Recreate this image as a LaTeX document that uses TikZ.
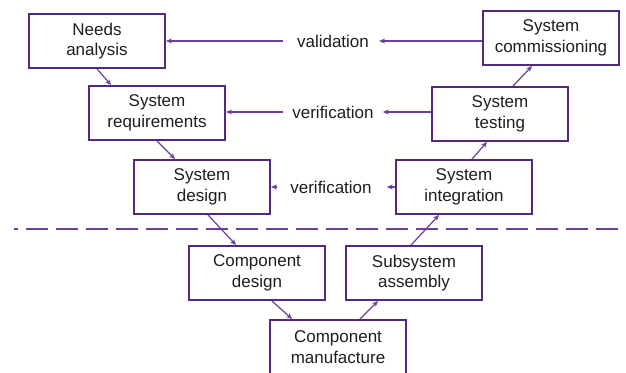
\documentclass[tikz,border=0pt]{standalone}
\usepackage{fontspec}
\setmainfont{Liberation Sans}
\usetikzlibrary{positioning, arrows.meta, calc}
\definecolor{plum}{HTML}{52297F}
\definecolor{violet}{HTML}{6A3FA0}
\definecolor{ink}{HTML}{1E1E1E}

\begin{document}
\begin{tikzpicture}[
  x=1pt, y=-1pt,
  stage/.style={
    rectangle, draw=plum, line width=1.9pt, fill=white,
    text=ink, font=\fontsize{17}{20.5}\selectfont,
    minimum width=136pt, minimum height=54pt,
    align=center, inner sep=2pt
  },
  arr/.style={-{Stealth[length=6pt, width=5pt]}, line width=1.2pt, draw=violet},
  lbl/.style={text=ink, font=\fontsize{17}{20}\selectfont, inner sep=0pt}
]
\useasboundingbox (0,0) rectangle (626,372);

%% left leg: definition (pixel grid, 626 x 372)
\node[stage] (needs)   at (97, 41)  {Needs\\analysis};
\node[stage] (sysreq)  at (157, 113) {System\\requirements};
\node[stage] (sysdes)  at (202, 187) {System\\design};
\node[stage] (compdes) at (257, 273) {Component\\design};

%% bottom
\node[stage] (manuf) at (338, 347) {Component\\manufacture};

%% right leg: integration
\node[stage] (subasm)  at (414, 273) {Subsystem\\assembly};
\node[stage] (sysint)  at (464, 187) {System\\integration};
\node[stage] (systest) at (500, 114) {System\\testing};
\node[stage] (syscomm) at (551, 38)  {System\\commissioning};

%% labels between the legs
\node[lbl] (valid)  at (333, 41)  {validation};
\node[lbl] (verif1) at (333, 112) {verification};
\node[lbl] (verif2) at (331, 187) {verification};

%% down the V
\draw[arr] (needs.south) -- ([xshift=23pt]sysreq.north west);
\draw[arr] (sysreq.south) -- ([xshift=42pt]sysdes.north west);
\draw[arr] ([xshift=6pt]sysdes.south) -- ([xshift=48pt]compdes.north west);
\draw[arr] ([xshift=15pt]compdes.south) -- ([xshift=23pt]manuf.north west);

%% up the V
\draw[arr] ([xshift=22pt]manuf.north) -- ([xshift=33pt]subasm.south west);
\draw[arr] ([xshift=-3pt]subasm.north) -- ([xshift=44pt]sysint.south west);
\draw[arr] ([xshift=8pt]sysint.north) -- ([xshift=56pt]systest.south west);
\draw[arr] ([xshift=13pt]systest.north) -- ([xshift=50pt]syscomm.south west);

%% checks back across the V (kept level with the labels)
\draw[arr] (syscomm.west |- valid) -- ([xshift=10pt]valid.east);
\draw[arr] ([xshift=-14pt]valid.west) -- (needs.east |- valid);
\draw[arr] (systest.west |- verif1) -- ([xshift=9pt]verif1.east);
\draw[arr] ([xshift=-9pt]verif1.west) -- (sysreq.east |- verif1);
\draw[arr] (sysint.west |- verif2) -- ([xshift=15pt]verif2.east);
\draw[arr] ([xshift=-13pt]verif2.west) -- (sysdes.east |- verif2);

%% system / component boundary
\coordinate (bound_left) at (14, 229);
\coordinate (bound_right) at (626, 229);
\draw[draw=violet, line width=2.6pt, dash pattern=on 22pt off 8pt, dash phase=18pt]
  (bound_left) -- (bound_right);

\end{tikzpicture}
\end{document}
